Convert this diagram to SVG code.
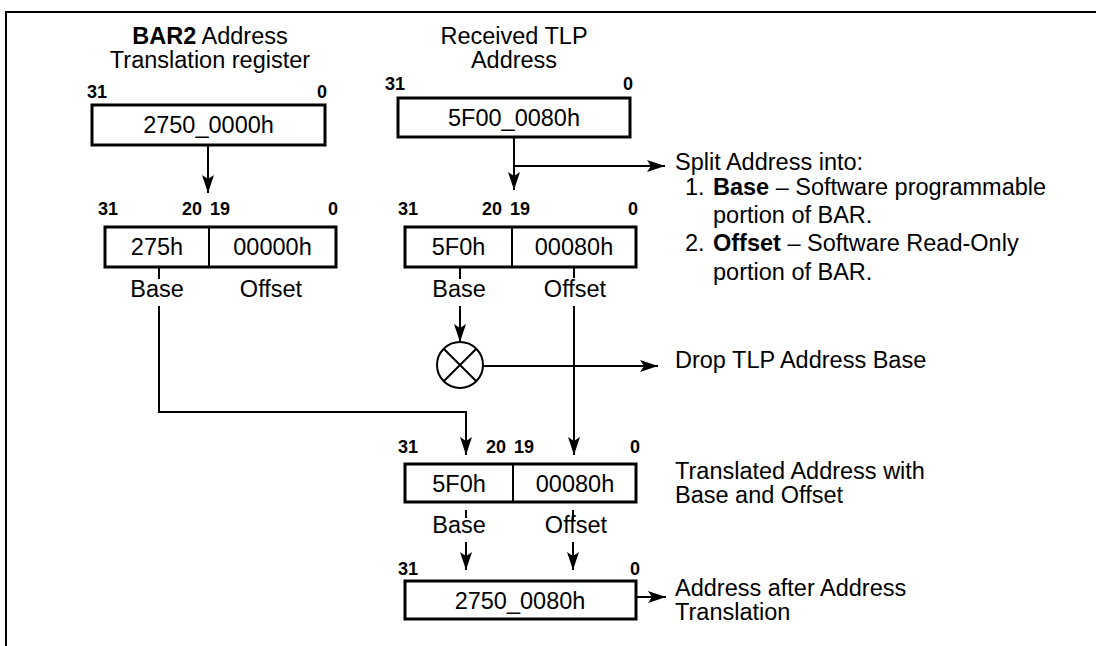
<svg xmlns="http://www.w3.org/2000/svg" width="1096" height="646" viewBox="0 0 1096 646">
<style>
  text { font-family: "Liberation Sans", Arial, Helvetica, sans-serif; fill: #000; }
  .t { font-size: 23.5px; }
  .c { font-size: 23.5px; text-anchor: middle; }
  .n { font-size: 18px; font-weight: bold; }
  .ne { font-size: 18px; font-weight: bold; text-anchor: end; }
  .box { fill: #fff; stroke: #000; stroke-width: 3; }
  .ln { fill: none; stroke: #000; stroke-width: 2; }
  .arr { fill: none; stroke: #000; stroke-width: 2; marker-end: url(#ah); }
</style>
<defs>
  <marker id="ah" viewBox="0 0 18 12" refX="18" refY="6" markerWidth="18" markerHeight="12" markerUnits="userSpaceOnUse" orient="auto">
    <path d="M0,0 L18,6 L0,12 L4,6 Z" fill="#000"/>
  </marker>
</defs>
<rect width="1096" height="646" fill="#fff"/>
<path d="M6,646 V12 H1096" fill="none" stroke="#000" stroke-width="2"/>

<g id="bar2-register">
  <text class="c" x="210" y="44"><tspan font-weight="bold">BAR2</tspan> Address</text>
  <text class="c" x="210" y="68">Translation register</text>
  <text class="n" x="87" y="98">31</text>
  <text class="ne" x="327" y="98">0</text>
  <rect class="box" x="92" y="105" width="233" height="40"/>
  <text class="c" x="208.5" y="133">2750_0000h</text>
</g>

<g id="tlp-address">
  <text class="c" x="514" y="44">Received TLP</text>
  <text class="c" x="514" y="68">Address</text>
  <text class="n" x="385" y="90">31</text>
  <text class="ne" x="633" y="90">0</text>
  <rect class="box" x="398" y="98" width="232" height="39"/>
  <text class="c" x="514" y="126">5F00_0080h</text>
</g>

<g id="bar2-split">
  <text class="n" x="98" y="215">31</text>
  <text class="ne" x="202" y="215">20</text>
  <text class="n" x="210" y="215">19</text>
  <text class="ne" x="338" y="215">0</text>
  <rect class="box" x="105" y="227" width="231" height="40"/>
  <line class="ln" x1="209" y1="227" x2="209" y2="267" stroke-width="3"/>
  <text class="c" x="157" y="255">275h</text>
  <text class="c" x="272.5" y="255">00000h</text>
  <text class="c" x="157" y="297">Base</text>
  <text class="c" x="271" y="297">Offset</text>
</g>

<g id="tlp-split">
  <text class="n" x="398" y="215">31</text>
  <text class="ne" x="502" y="215">20</text>
  <text class="n" x="510" y="215">19</text>
  <text class="ne" x="638" y="215">0</text>
  <rect class="box" x="405" y="227" width="231" height="40"/>
  <line class="ln" x1="512" y1="227" x2="512" y2="267" stroke-width="3"/>
  <text class="c" x="458.5" y="255">5F0h</text>
  <text class="c" x="574" y="255">00080h</text>
  <text class="c" x="459" y="297">Base</text>
  <text class="c" x="575" y="297">Offset</text>
</g>

<g id="split-note">
  <text class="t" x="675" y="170">Split Address into:</text>
  <text class="t" x="685" y="195">1.</text>
  <text class="t" x="713" y="195"><tspan font-weight="bold">Base</tspan> – Software programmable</text>
  <text class="t" x="713" y="223">portion of BAR.</text>
  <text class="t" x="685" y="251">2.</text>
  <text class="t" x="713" y="251"><tspan font-weight="bold">Offset</tspan> – Software Read-Only</text>
  <text class="t" x="713" y="280">portion of BAR.</text>
</g>

<g id="drop-base">
  <circle cx="460" cy="365" r="23" fill="#fff" stroke="#000" stroke-width="2"/>
  <line class="ln" x1="443.7" y1="348.7" x2="476.3" y2="381.3" stroke-width="1.8"/>
  <line class="ln" x1="476.3" y1="348.7" x2="443.7" y2="381.3" stroke-width="1.8"/>
  <text class="t" x="675" y="368">Drop TLP Address Base</text>
</g>

<g id="translated">
  <text class="n" x="398" y="453">31</text>
  <text class="ne" x="506" y="453">20</text>
  <text class="n" x="514" y="453">19</text>
  <text class="ne" x="640" y="453">0</text>
  <rect class="box" x="405" y="464" width="231" height="38"/>
  <line class="ln" x1="513" y1="464" x2="513" y2="502" stroke-width="3"/>
  <text class="c" x="459" y="492">5F0h</text>
  <text class="c" x="575" y="492">00080h</text>
  <text class="c" x="459" y="533">Base</text>
  <text class="c" x="576" y="533">Offset</text>
  <text class="t" x="675" y="479">Translated Address with</text>
  <text class="t" x="675" y="503">Base and Offset</text>
</g>

<g id="final-address">
  <text class="n" x="398" y="575">31</text>
  <text class="ne" x="640" y="575">0</text>
  <rect class="box" x="405" y="581" width="231" height="38"/>
  <text class="c" x="520" y="609">2750_0080h</text>
  <text class="t" x="675" y="596">Address after Address</text>
  <text class="t" x="675" y="620">Translation</text>
</g>

<g id="connectors">
  <path class="arr" d="M208,145 V193"/>
  <path class="arr" d="M514,137 V190"/>
  <path class="arr" d="M514,166 H665"/>
  <path class="ln" d="M159,267 V279"/>
  <path class="arr" d="M159,306 V412 H466 V455"/>
  <path class="ln" d="M460,267 V279"/>
  <path class="arr" d="M460,306 V342"/>
  <path class="ln" d="M574,267 V278"/>
  <path class="arr" d="M574,306 V455"/>
  <path class="arr" d="M483,366 H658"/>
  <path class="ln" d="M466,510 V518"/>
  <path class="ln" d="M573,510 V520"/>
  <path class="arr" d="M466,542 V570"/>
  <path class="arr" d="M573,542 V570"/>
  <path class="arr" d="M636,597 H666"/>
</g>
</svg>
